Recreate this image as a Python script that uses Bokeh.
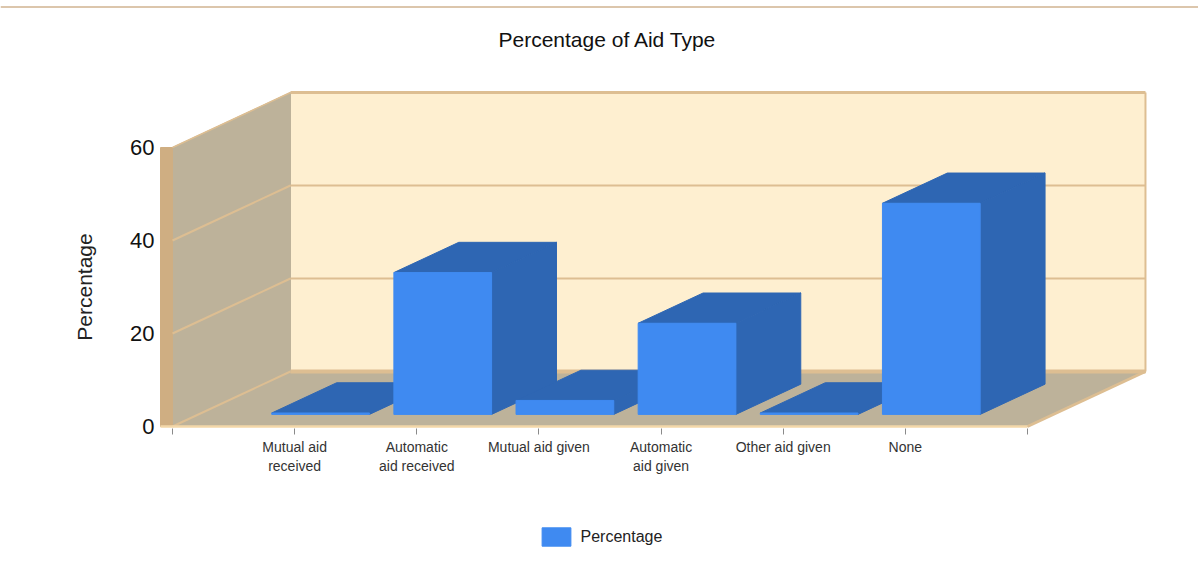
from bokeh.plotting import figure
from bokeh.models import FixedTicker, Legend, LegendItem, Label
from bokeh.embed import file_html
from bokeh.resources import INLINE

categories = ["Mutual aid\nreceived", "Automatic\naid received", "Mutual aid given",
              "Automatic\naid given", "Other aid given", "None"]
values = [0.3, 30.5, 3.0, 19.6, 0.3, 45.4]
y_ticks = [0, 20, 40, 60]

FONT = "Liberation Sans"
FRONT, SIDE = "#3F8AF1", "#2E66B3"
BACK, WALL, STRIP, EDGE = "#FEEFD0", "#BDB29A", "#CFAE82", "#DDBE92"

W, H = 1198, 568
# scale: pixels per unit, and pixel positions of the data origin
PX_X, PX_Y = 122.14, 4.65
X0_PX, Y0_PX = 294.14, 426.0
AXIS_X_PX, AXIS_Y_PX = 160, 428
# full depth of the box, in data units
DX, DY = 118 / PX_X, 55 / PX_Y
Z_FRONT, Z_BACK = 0.22, 0.77
BAR_W = 0.8


def dx(px):
    return (px - X0_PX) / PX_X


def dy(px):
    return (Y0_PX - px) / PX_Y


p = figure(width=W, height=H, output_backend="svg", toolbar_location=None,
           x_range=(dx(0), dx(W)), y_range=(dy(H), dy(0)),
           min_border=0, outline_line_color=None, border_fill_color="white")
p.grid.visible = False


def proj(x, y, z):
    return x + z * DX, y + z * DY


def poly(corners, fill, line=None, width=1):
    xs, ys = zip(*[proj(*c) for c in corners])
    return p.patch(list(xs), list(ys), fill_color=fill, line_color=line or fill, line_width=width)


def seg(a, b, width=2, color=EDGE):
    ax, ay = proj(*a)
    bx, by = proj(*b)
    p.line([ax, bx], [ay, by], line_color=color, line_width=width)


XL, XR = -1, len(categories)
YT = y_ticks[-1]
# page rule above the chart
p.line([dx(0), dx(W)], [dy(6.5), dy(6.5)], line_color="#DCC6AC", line_width=2)
# walls and floor
poly([(XL, 0, 1), (XR, 0, 1), (XR, YT, 1), (XL, YT, 1)], BACK)
poly([(XL, 0, 0), (XL, 0, 1), (XL, YT, 1), (XL, YT, 0)], WALL)
poly([(XL, 0, 0), (XR, 0, 0), (XR, 0, 1), (XL, 0, 1)], WALL)
poly([(XL - 12 / PX_X, 0, 0), (XL, 0, 0), (XL, YT, 0), (XL - 12 / PX_X, YT, 0)], STRIP)
for t in y_ticks[1:-1]:
    seg((XL, t, 0), (XL, t, 1))
    seg((XL, t, 1), (XR, t, 1))
seg((XL, 0, 0), (XL, 0, 1))
seg((XL, YT, 0), (XL, YT, 1), 1.5)
seg((XL, YT, 1), (XR, YT, 1), 3)
seg((XR, YT, 1), (XR, 0, 1), 2)
seg((XL, 0, 1), (XR, 0, 1), 4)
seg((XR, 0, 0), (XR, 0, 1), 3)
seg((XL - 12 / PX_X, 0, 0), (XR, 0, 0), 2.5, "#F3D7A8")

# bars
front_renderer = None
for i, v in enumerate(values):
    a, b = i - BAR_W / 2, i + BAR_W / 2
    poly([(a, v, Z_FRONT), (b, v, Z_FRONT), (b, v, Z_BACK), (a, v, Z_BACK)], SIDE)
    poly([(b, 0, Z_FRONT), (b, 0, Z_BACK), (b, v, Z_BACK), (b, v, Z_FRONT)], SIDE)
    front_renderer = poly([(a, 0, Z_FRONT), (b, 0, Z_FRONT), (b, v, Z_FRONT), (a, v, Z_FRONT)], FRONT)

# axes
xa = p.xaxis[0]
xa.fixed_location = dy(AXIS_Y_PX)
xa.ticker = FixedTicker(ticks=[XL] + list(range(len(categories))) + [XR])
xa.major_label_overrides = {XL: " ", XR: " ", **{i: c for i, c in enumerate(categories)}}
xa.axis_line_color = None
xa.major_tick_line_color = "#8A8A8A"
xa.major_tick_out = 6
xa.major_tick_in = 0
xa.minor_tick_line_color = None
xa.major_label_text_font = FONT
xa.major_label_text_font_size = "14px"
xa.major_label_text_color = "#333333"
xa.major_label_standoff = 4

ya = p.yaxis[0]
ya.fixed_location = dx(AXIS_X_PX)
ya.ticker = FixedTicker(ticks=y_ticks)
ya.bounds = (0, 60)
ya.axis_line_color = None
ya.major_tick_line_color = None
ya.minor_tick_line_color = None
ya.major_label_text_font = FONT
ya.major_label_text_font_size = "22px"
ya.major_label_text_color = "#111111"
ya.major_label_standoff = 0
ya.axis_label = "Percentage"
ya.axis_label_text_font = FONT
ya.axis_label_text_font_style = "normal"
ya.axis_label_text_font_size = "21px"
ya.axis_label_text_color = "#222222"
ya.axis_label_standoff = 31

p.add_layout(Label(x=dx(498), y=dy(39), text="Percentage of Aid Type", text_font=FONT,
                   text_font_size="21px", text_color="#111111", text_baseline="middle"))

legend = Legend(items=[LegendItem(label="Percentage", renderers=[front_renderer])],
                location=(537.5, H - 548), orientation="horizontal",
                glyph_width=36, glyph_height=23, padding=0, margin=0, label_standoff=7,
                label_text_font=FONT, label_text_font_size="16px", label_text_color="#222222",
                border_line_color=None, background_fill_alpha=0)
p.add_layout(legend)

open("out.html", "w").write(file_html(p, INLINE))
